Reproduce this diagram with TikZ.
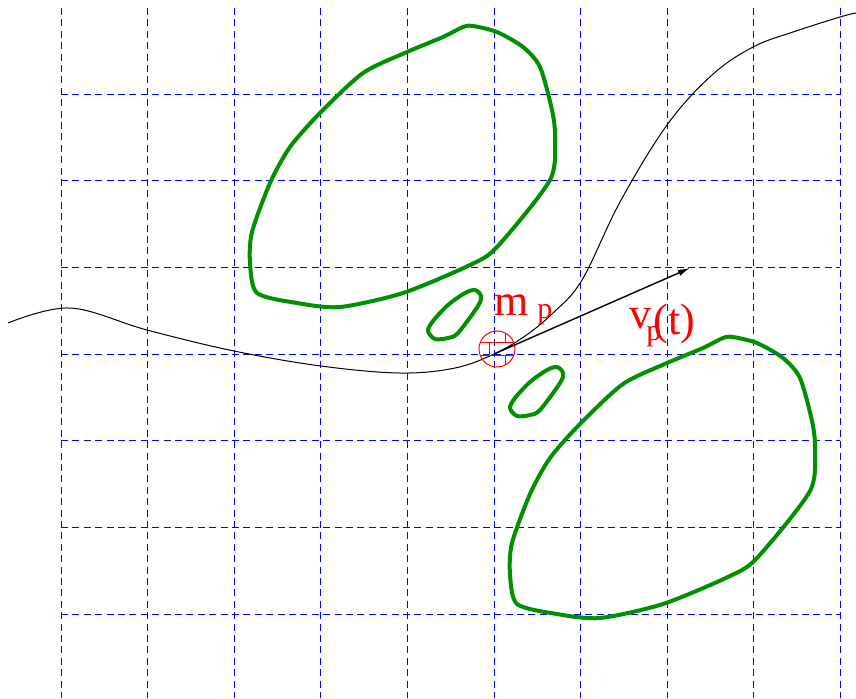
\documentclass[tikz,border=0pt]{standalone}
\usepackage{fontspec}
\setmainfont{Liberation Serif}
\usetikzlibrary{arrows.meta}
\definecolor{figblue}{RGB}{0,0,255}
\definecolor{figgreen}{RGB}{0,144,0}
\definecolor{figred}{RGB}{255,0,0}
\tikzset{
  gridline/.style={draw=figblue, line width=0.5pt, dash pattern=on 3.5pt off 2.2pt},
  blob/.style={draw=figgreen, line width=2pt, line join=round, line cap=round},
  traj/.style={draw=black, line width=0.5pt},
  velarrow/.style={draw=black, line width=0.7pt, -{Latex[length=6pt,width=3.2pt]}},
  bigtxt/.style={text=figred, font=\fontsize{22}{26}\selectfont, inner sep=0pt, anchor=base west},
  subtxt/.style={text=figred, font=\fontsize{15}{18}\selectfont, inner sep=0pt, anchor=base west},
  particle/.style={circle, draw=figred, line width=0.5pt, minimum size=18pt, inner sep=0pt}
}
\begin{document}
\begin{tikzpicture}[x=0.5pt, y=-0.5pt]
\useasboundingbox (0,0) rectangle (856,698);
% grid
\foreach \i in {0,...,9} {
  \draw[gridline] ({61+86.6*\i},8) -- ({61+86.6*\i},698);
}
\foreach \j in {0,...,6} {
  \draw[gridline] (61,{94+86.7*\j}) -- (840.4,{94+86.7*\j});
}
% big obstacles (same shape, translated)
\foreach \dx/\dy in {0/0, 260/311} {
\begin{scope}[shift={(\dx,\dy)}]
\draw[blob] plot[smooth cycle, tension=0.45] coordinates {
  (463,27) (443,37) (407,52) (363,73) (320,113) (290,147) (270,183)
  (252,232) (250,263) (257,293) (297,303) (340,307) (403,293)
  (470,265) (497,247) (550,180) (555,137) (552,110) (540,67)
  (523,47) (497,32) (473,26)};
\end{scope}
}
% small obstacles
\foreach \dx/\dy in {0/0, -82/-77} {
\begin{scope}[shift={(\dx,\dy)}]
\draw[blob] plot[smooth cycle, tension=0.5] coordinates {
  (557,367) (563,373) (560,383) (540,410) (530,415) (517,416)
  (510,408) (515,398) (530,382) (547,370)};
\end{scope}
}
% trajectory
\coordinate (tstart) at (8,323);
\coordinate (tend) at (856,13);
\draw[traj] plot[smooth, tension=0.6] coordinates {
  (tstart) (70,308) (147,330) (234,351) (321,366) (400,373) (455,368)
  (494,354) (525,336) (553,313) (582,280) (620,202) (667,125)
  (712,75) (753,47) (793,32) (840,17) (tend)};
% particle
\node[particle] (mp) at (497,349) {};
\begin{scope}
\clip (mp.center) circle (9pt);
\draw[figred, line width=0.5pt] (470,342) -- (525,342);
\draw[figred, line width=0.5pt] (470,355) -- (525,355);
\draw[figred, line width=0.5pt] (505,325) -- (505,342);
\draw[figred, line width=0.5pt] (489,342) -- (489,355);
\draw[figred, line width=0.5pt] (505,355) -- (505,370);
\end{scope}
% velocity arrow
\coordinate (vstart) at (494,354);
\coordinate (vend) at (690,268);
\draw[velarrow] (vstart) -- (vend);
% labels
\node[bigtxt] (m) at (494,315) {m};
\node[subtxt] (mpsub) at (537,318) {p};
\node[bigtxt] (v) at (629,328) {v};
\node[subtxt] (vpsub) at (646,340) {p};
\node[bigtxt] (t) at (653,334) {(t)};
\end{tikzpicture}
\end{document}
